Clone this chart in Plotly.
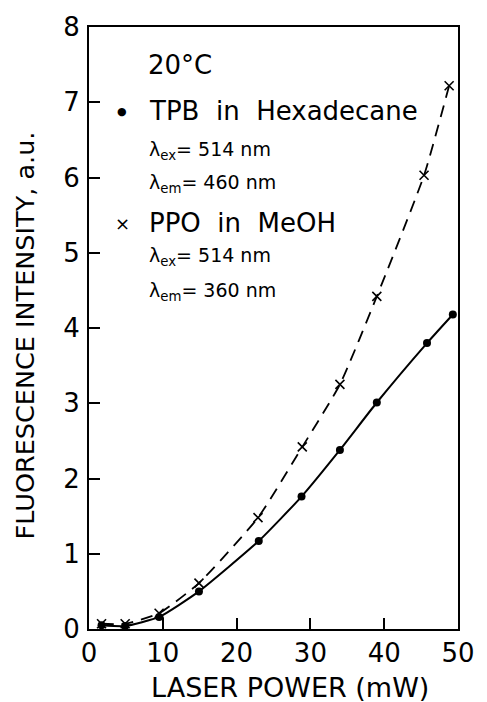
import plotly.graph_objects as go

# Laser power (mW) and fluorescence intensity (a.u.)
tpb_power = [1.7, 4.9, 9.5, 14.9, 23.0, 28.8, 34.0, 39.0, 45.8, 49.3]
tpb_intensity = [0.05, 0.04, 0.16, 0.50, 1.17, 1.76, 2.38, 3.01, 3.80, 4.18]

ppo_power = [1.7, 4.9, 9.5, 14.9, 22.9, 28.9, 34.0, 39.0, 45.4, 48.8]
ppo_intensity = [0.07, 0.07, 0.21, 0.61, 1.48, 2.42, 3.25, 4.42, 6.03, 7.22]

x_ticks = [0, 10, 20, 30, 40, 50]
y_ticks = [0, 1, 2, 3, 4, 5, 6, 7, 8]

FONT = "DejaVu Sans"
INK = "black"

fig = go.Figure()

fig.add_trace(go.Scatter(
    x=tpb_power, y=tpb_intensity, mode="lines+markers",
    line=dict(color=INK, width=2, shape="spline", smoothing=0.5),
    marker=dict(symbol="circle", size=8, color=INK),
    showlegend=False,
))
fig.add_trace(go.Scatter(
    x=ppo_power, y=ppo_intensity, mode="lines+markers",
    line=dict(color=INK, width=1.8, dash="12px,8px", shape="spline", smoothing=0.5),
    marker=dict(symbol="x-thin", size=9, line=dict(color=INK, width=1.6)),
    showlegend=False,
))

axis_common = dict(
    showline=True, mirror=True, linecolor=INK, linewidth=2,
    ticks="inside", ticklen=11, tickwidth=1.6, tickcolor=INK,
    showgrid=False, zeroline=False,
    tickfont=dict(family=FONT, size=26, color=INK),
)

fig.update_xaxes(range=[0, 50], tickvals=x_ticks, ticktext=[str(v) for v in x_ticks],
                 ticklabelstandoff=0, **axis_common)
fig.update_yaxes(range=[0, 8], tickvals=y_ticks, ticktext=[str(v) for v in y_ticks],
                 ticklabelstandoff=2, **axis_common)

nb = "\u00a0"
legend_rows = [
    ("20°C", 7.7, 7.50, 26),
    (f"TPB{nb}{nb}in{nb}{nb}Hexadecane", 7.8, 6.88, 26),
    ("λ<sub>ex</sub>= 514 nm", 7.8, 6.36, 19),
    ("λ<sub>em</sub>= 460 nm", 7.8, 5.92, 19),
    (f"PPO{nb}{nb}in{nb}{nb}MeOH", 7.8, 5.39, 26),
    ("λ<sub>ex</sub>= 514 nm", 7.8, 4.95, 19),
    ("λ<sub>em</sub>= 360 nm", 7.8, 4.49, 19),
]
annotations = [
    dict(text=t, x=x, y=y, xref="x", yref="y", xanchor="left", yanchor="middle",
         showarrow=False, font=dict(family=FONT, size=s, color=INK))
    for t, x, y, s in legend_rows
]
# legend glyphs
annotations += [
    dict(text="●", x=4.5, y=6.88, xref="x", yref="y", showarrow=False,
         font=dict(family=FONT, size=11, color=INK)),
    dict(text="×", x=4.5, y=5.39, xref="x", yref="y", showarrow=False,
         font=dict(family=FONT, size=18, color=INK)),
]
# axis titles
annotations += [
    dict(text="LASER POWER (mW)", x=0.544, y=-0.097, xref="paper", yref="paper",
         showarrow=False, xanchor="center", yanchor="middle",
         font=dict(family=FONT, size=27, color=INK)),
    dict(text="FLUORESCENCE INTENSITY, a.u.", x=-0.173, y=0.488, xref="paper", yref="paper",
         showarrow=False, xanchor="center", yanchor="middle", textangle=-90,
         font=dict(family=FONT, size=25.5, color=INK)),
]

fig.update_layout(
    width=487, height=702,
    margin=dict(l=89, r=23, t=22, b=73),
    plot_bgcolor="white", paper_bgcolor="white",
    annotations=annotations,
)

fig.write_html("out.html")
